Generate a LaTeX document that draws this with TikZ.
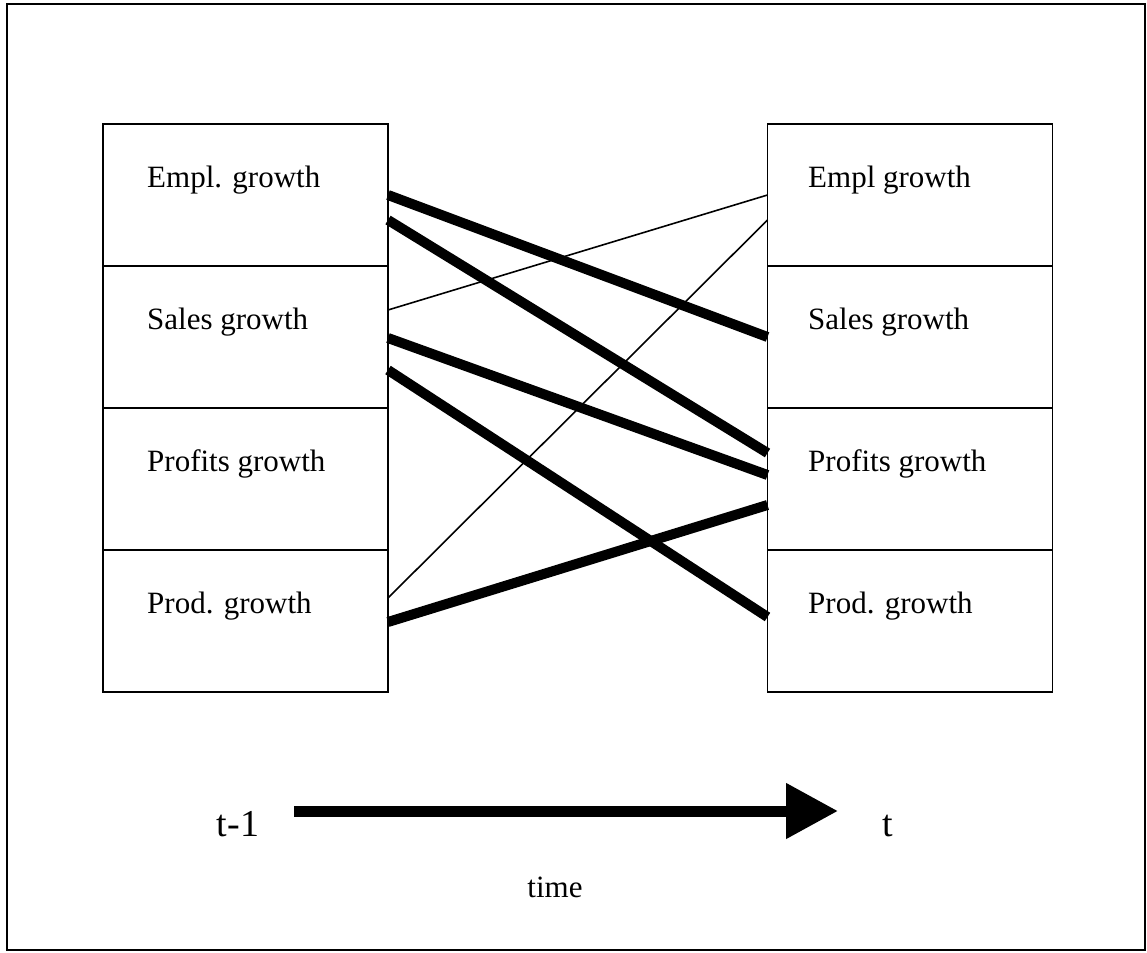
\documentclass[tikz,border=0pt]{standalone}
\usepackage{fontspec}
\setmainfont{Liberation Serif}
\usetikzlibrary{arrows.meta,calc}
\begin{document}
\begin{tikzpicture}[x=1pt,y=-1pt,
  cell/.style={draw=black,line width=1.6pt,minimum width=285pt,minimum height=142pt,inner sep=0pt,outer sep=0pt},
  lab/.style={anchor=base west,inner sep=0pt,font=\fontsize{31}{31}\selectfont},
  thick link/.style={line width=10pt},
  thin link/.style={line width=1.6pt},
  big/.style={inner sep=0pt,font=\fontsize{38}{38}\selectfont}]
\useasboundingbox (0,0) rectangle (1147,952);
\draw[line width=2pt] (7,4) rectangle (1145,950);
% left column
\node[cell] (L1) at (245.5,195) {};
\node[cell] (L2) at (245.5,337) {};
\node[cell] (L3) at (245.5,479) {};
\node[cell] (L4) at (245.5,621) {};
% right column
\node[cell] (R1) at (910,195) {};
\node[cell] (R2) at (910,337) {};
\node[cell] (R3) at (910,479) {};
\node[cell] (R4) at (910,621) {};
% labels
\node[lab] (l1) at (147,187) {Empl. growth};
\node[lab] (l2) at (147,329) {Sales growth};
\node[lab] (l3) at (147,471) {Profits growth};
\node[lab] (l4) at (147,613) {Prod. growth};
\node[lab] (r1) at (808,187) {Empl growth};
\node[lab] (r2) at (808,329) {Sales growth};
\node[lab] (r3) at (808,471) {Profits growth};
\node[lab] (r4) at (808,613) {Prod. growth};
% links
\draw[thick link] (L1.east) -- (R2.west);
\draw[thick link] ([yshift=-25pt]L1.east) -- ([yshift=26pt]R3.west);
\draw[thick link] ([yshift=-1pt]L2.east) -- ([yshift=4pt]R3.west);
\draw[thick link] ([yshift=-33pt]L2.east) -- ([yshift=4pt]R4.west);
\draw[thick link] ([yshift=-1pt]L4.east) -- ([yshift=-26pt]R3.west);
\draw[thin link] ([yshift=27pt]L2.east) -- (R1.west);
\draw[thin link] ([yshift=23pt]L4.east) -- ([yshift=-25pt]R1.west);
% time arrow
\coordinate (a0) at (294,811);
\coordinate (a1) at (838,811);
\draw[line width=11pt,-{Triangle[length=52pt,width=53pt]}] (a0) -- (a1);
\node[big,anchor=base] (tm1) at (238,836) {t-1};
\node[big,anchor=base] (tt) at (888,836) {t};
\node[lab,anchor=base] (time) at (555,897) {time};
\end{tikzpicture}
\end{document}
